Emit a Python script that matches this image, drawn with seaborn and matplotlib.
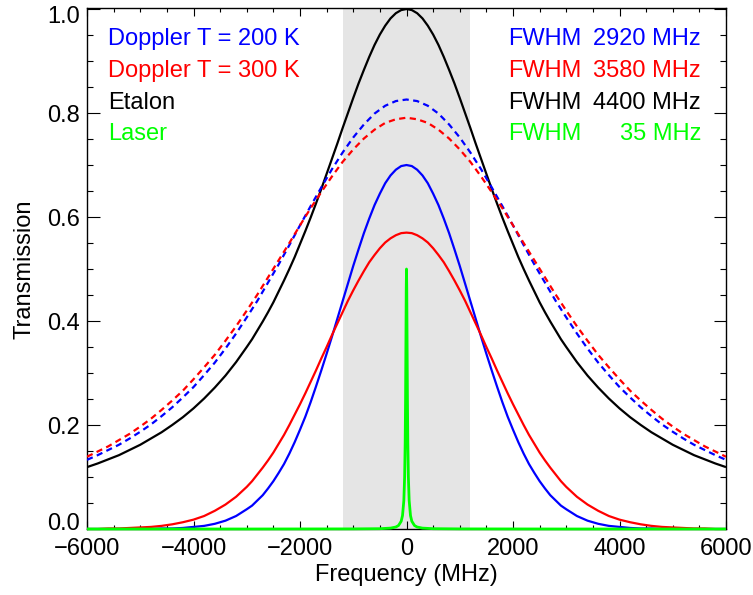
import matplotlib
matplotlib.use("Agg")
import matplotlib.pyplot as plt
from matplotlib.ticker import MultipleLocator
from matplotlib.transforms import ScaledTranslation
import seaborn as sns

# ---- data ----
# frequency grid for the solid curves (finer near the centre)
freq_fine = [-6000, -5800, -5600, -5400, -5200, -5000, -4800, -4600, -4400, -4200,
             -4000, -3800, -3600, -3400, -3200,
             -3000, -2900, -2800, -2700, -2600, -2500, -2400, -2300, -2200, -2100,
             -2000, -1900, -1800, -1700, -1600, -1500, -1400, -1300, -1200, -1100,
             -1000, -900, -800, -700, -600, -500, -400, -300, -200, -100,
             0, 100, 200, 300, 400, 500, 600, 700, 800, 900,
             1000, 1100, 1200, 1300, 1400, 1500, 1600, 1700, 1800, 1900,
             2000, 2100, 2200, 2300, 2400, 2500, 2600, 2700, 2800, 2900, 3000,
             3200, 3400, 3600, 3800, 4000, 4200, 4400, 4600, 4800, 5000,
             5200, 5400, 5600, 5800, 6000]

etalon = [0.119, 0.126, 0.134, 0.142, 0.152, 0.162, 0.174, 0.186, 0.200, 0.215,
          0.232, 0.251, 0.272, 0.295, 0.321,
          0.350, 0.365, 0.382, 0.399, 0.417, 0.436, 0.457, 0.478, 0.500, 0.523,
          0.548, 0.573, 0.599, 0.626, 0.654, 0.683, 0.712, 0.741, 0.771, 0.800,
          0.829, 0.857, 0.883, 0.908, 0.931, 0.951, 0.968, 0.982, 0.992, 0.998,
          1.000, 0.998, 0.992, 0.982, 0.968, 0.951, 0.931, 0.908, 0.883, 0.857,
          0.829, 0.800, 0.771, 0.741, 0.712, 0.683, 0.654, 0.626, 0.599, 0.573,
          0.548, 0.523, 0.500, 0.478, 0.457, 0.436, 0.417, 0.399, 0.382, 0.365, 0.350,
          0.321, 0.295, 0.272, 0.251, 0.232, 0.215, 0.200, 0.186, 0.174, 0.162,
          0.152, 0.142, 0.134, 0.126, 0.119]

doppler_200 = [0.000, 0.000, 0.000, 0.000, 0.000, 0.000, 0.000, 0.001, 0.001, 0.002,
               0.004, 0.006, 0.010, 0.016, 0.025,
               0.038, 0.045, 0.055, 0.065, 0.078, 0.092, 0.108, 0.125, 0.145, 0.167,
               0.191, 0.216, 0.244, 0.274, 0.305, 0.337, 0.370, 0.404, 0.438, 0.472,
               0.506, 0.538, 0.569, 0.597, 0.623, 0.645, 0.665, 0.680, 0.691, 0.698,
               0.700, 0.698, 0.691, 0.680, 0.665, 0.645, 0.623, 0.597, 0.569, 0.538,
               0.506, 0.472, 0.438, 0.404, 0.370, 0.337, 0.305, 0.274, 0.244, 0.216,
               0.191, 0.167, 0.145, 0.125, 0.108, 0.092, 0.078, 0.065, 0.055, 0.045, 0.038,
               0.025, 0.016, 0.010, 0.006, 0.004, 0.002, 0.001, 0.001, 0.000, 0.000,
               0.000, 0.000, 0.000, 0.000, 0.000]

doppler_300 = [0.000, 0.000, 0.001, 0.001, 0.002, 0.003, 0.004, 0.006, 0.009, 0.013,
               0.018, 0.025, 0.035, 0.047, 0.062,
               0.081, 0.092, 0.105, 0.118, 0.132, 0.147, 0.164, 0.181, 0.200, 0.220,
               0.240, 0.261, 0.283, 0.305, 0.328, 0.350, 0.373, 0.395, 0.417, 0.439,
               0.459, 0.478, 0.496, 0.513, 0.527, 0.540, 0.551, 0.559, 0.565, 0.569,
               0.570, 0.569, 0.565, 0.559, 0.551, 0.540, 0.527, 0.513, 0.496, 0.478,
               0.459, 0.439, 0.417, 0.395, 0.373, 0.350, 0.328, 0.305, 0.283, 0.261,
               0.240, 0.220, 0.200, 0.181, 0.164, 0.147, 0.132, 0.118, 0.105, 0.092, 0.081,
               0.062, 0.047, 0.035, 0.025, 0.018, 0.013, 0.009, 0.006, 0.004, 0.003,
               0.002, 0.001, 0.001, 0.000, 0.000]

# frequency grid for the dashed (combined) curves
freq = [-6000, -5800, -5600, -5400, -5200, -5000, -4800, -4600, -4400, -4200,
        -4000, -3800, -3600, -3400, -3200, -3000, -2800, -2600, -2400, -2200,
        -2000, -1800, -1600, -1400, -1200, -1000, -800, -600, -400, -200,
        0, 200, 400, 600, 800, 1000, 1200, 1400, 1600, 1800,
        2000, 2200, 2400, 2600, 2800, 3000, 3200, 3400, 3600, 3800,
        4000, 4200, 4400, 4600, 4800, 5000, 5200, 5400, 5600, 5800, 6000]

combined_200 = [0.133, 0.142, 0.152, 0.162, 0.174, 0.187, 0.201, 0.217, 0.234, 0.253,
                0.273, 0.296, 0.320, 0.347, 0.376, 0.407, 0.439, 0.474, 0.509, 0.546,
                0.584, 0.621, 0.657, 0.692, 0.724, 0.753, 0.778, 0.799, 0.814, 0.823,
                0.826, 0.823, 0.814, 0.799, 0.778, 0.753, 0.724, 0.692, 0.657, 0.621,
                0.584, 0.546, 0.509, 0.474, 0.439, 0.407, 0.376, 0.347, 0.320, 0.296,
                0.273, 0.253, 0.234, 0.217, 0.201, 0.187, 0.174, 0.162, 0.152, 0.142, 0.133]

combined_300 = [0.139, 0.149, 0.159, 0.171, 0.183, 0.197, 0.212, 0.229, 0.247, 0.266,
                0.288, 0.311, 0.335, 0.362, 0.390, 0.420, 0.451, 0.484, 0.517, 0.550,
                0.584, 0.617, 0.648, 0.678, 0.706, 0.730, 0.751, 0.768, 0.781, 0.788,
                0.791, 0.788, 0.781, 0.768, 0.751, 0.730, 0.706, 0.678, 0.648, 0.617,
                0.584, 0.550, 0.517, 0.484, 0.451, 0.420, 0.390, 0.362, 0.335, 0.311,
                0.288, 0.266, 0.247, 0.229, 0.212, 0.197, 0.183, 0.171, 0.159, 0.149, 0.139]

laser_freq = [-6000, -3000, -1000, -500, -300, -200, -150, -100, -75, -50, -35, -25,
              -17.5, -10, -5, 0, 5, 10, 17.5, 25, 35, 50, 75, 100, 150, 200, 300,
              500, 1000, 3000, 6000]
laser = [0.0000, 0.0000, 0.0002, 0.0006, 0.0017, 0.0038, 0.0067, 0.0149, 0.0258, 0.0546,
         0.1000, 0.1644, 0.2500, 0.3769, 0.4623, 0.5000, 0.4623, 0.3769, 0.2500, 0.1644,
         0.1000, 0.0546, 0.0258, 0.0149, 0.0067, 0.0038, 0.0017, 0.0006, 0.0002, 0.0000, 0.0000]

shade_range = [-1200, 1200]

xtick_values = [-6000, -4000, -2000, 0, 2000, 4000, 6000]
xtick_labels = ["\u22126000", "\u22124000", "\u22122000", "0", "2000", "4000", "6000"]
ytick_values = [0.0, 0.2, 0.4, 0.6, 0.8, 1.0]
ytick_labels = ["0.0", "0.2", "0.4", "0.6", "0.8", "1.0"]

labels_left = ["Doppler T = 200 K", "Doppler T = 300 K", "Etalon", "Laser"]
labels_right = ["2920 MHz", "3580 MHz", "4400 MHz", "35 MHz"]
label_colors = ["#0000ff", "#ff0000", "#000000", "#00ff00"]

# ---- styling ----
sns.set_theme(style="ticks")
plt.rcParams["font.family"] = ["Liberation Sans", "DejaVu Sans"]
plt.rcParams["lines.solid_capstyle"] = "butt"
FS = 17

fig = plt.figure(figsize=(7.53, 5.95), dpi=100)
ax = fig.add_axes([87 / 753, 66 / 595, 639 / 753, 521 / 595])

ax.axvspan(shade_range[0], shade_range[1], color="#e5e5e5", lw=0, zorder=0)

lw = 1.6
dash = (0, (2.8, 2.0))
sns.lineplot(x=freq_fine, y=etalon, color="#000000", lw=lw, ax=ax, zorder=3)
sns.lineplot(x=freq, y=combined_200, color="#0000ff", lw=lw, ax=ax, zorder=3, linestyle=dash)
sns.lineplot(x=freq, y=combined_300, color="#ff0000", lw=lw, ax=ax, zorder=3, linestyle=dash)
sns.lineplot(x=freq_fine, y=doppler_200, color="#0000ff", lw=lw, ax=ax, zorder=3)
sns.lineplot(x=freq_fine, y=doppler_300, color="#ff0000", lw=lw, ax=ax, zorder=3)
sns.lineplot(x=laser_freq, y=laser, color="#00ff00", lw=2.0, ax=ax, zorder=5, clip_on=False)

ax.set_xlim(-6000, 6000)
ax.set_ylim(0, 1.002)
ax.set_xticks(xtick_values)
ax.set_xticklabels(xtick_labels)
ax.set_yticks(ytick_values)
ax.set_yticklabels(ytick_labels)
ax.xaxis.set_minor_locator(MultipleLocator(500))
ax.yaxis.set_minor_locator(MultipleLocator(0.05))

ax.tick_params(axis="both", which="both", direction="in", top=True, right=True,
               colors="black", labelsize=FS, width=0.8)
ax.tick_params(axis="x", which="major", length=6, pad=6.5)
ax.tick_params(axis="x", which="minor", length=3)
ax.tick_params(axis="y", which="major", length=9, pad=5)
ax.tick_params(axis="y", which="minor", length=4.5)
for s in ax.spines.values():
    s.set_linewidth(1.0)
    s.set_color("black")

ax.set_xlabel("Frequency (MHz)", fontsize=FS, color="black")
ax.set_ylabel("Transmission", fontsize=FS, color="black")
ax.xaxis.set_label_coords(0.5, -0.067)
ax.yaxis.set_label_coords(-0.081, 0.499)

# keep first/last y labels inside the frame, as in the reference
ylabs = ax.get_yticklabels()
ylabs[0].set_transform(ylabs[0].get_transform() + ScaledTranslation(0, 7 / 100, fig.dpi_scale_trans))
ylabs[-1].set_transform(ylabs[-1].get_transform() + ScaledTranslation(0, -5 / 100, fig.dpi_scale_trans))

ys = [0.929, 0.8676, 0.8071, 0.7466]
for lab, rlab, col, yy in zip(labels_left, labels_right, label_colors, ys):
    ax.text(0.0329, yy, lab, color=col, fontsize=FS, transform=ax.transAxes,
            ha="left", va="baseline", zorder=6)
    ax.text(0.6588, yy, "FWHM", color=col, fontsize=FS, transform=ax.transAxes,
            ha="left", va="baseline", zorder=6)
    ax.text(0.9609, yy, rlab, color=col, fontsize=FS, transform=ax.transAxes,
            ha="right", va="baseline", zorder=6)

fig.savefig("out.png", dpi=100)
